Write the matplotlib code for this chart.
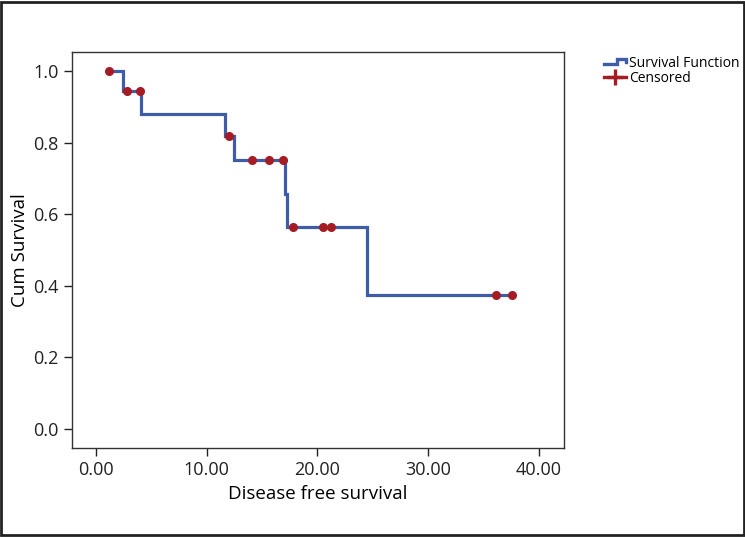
import matplotlib
matplotlib.use("Agg")
import matplotlib.pyplot as plt
from matplotlib.lines import Line2D
from matplotlib.legend_handler import HandlerBase
from matplotlib.patches import Rectangle

# Data
event_times = [2.5, 4.1, 11.7, 12.5, 17.1, 17.3, 24.5]
survival_levels = [1.0, 0.944, 0.881, 0.818, 0.75, 0.656, 0.563, 0.375]
start_time = 1.2
end_time = 37.6
censored_times = [1.2, 2.85, 4.0, 12.0, 14.1, 15.6, 16.9, 17.8, 20.5, 21.2, 36.1, 37.6]
censored_surv = [1.0, 0.944, 0.944, 0.818, 0.75, 0.75, 0.75, 0.563, 0.563, 0.563, 0.375, 0.375]
x_ticks = [0, 10, 20, 30, 40]
x_tick_labels = ["0.00", "10.00", "20.00", "30.00", "40.00"]
y_ticks = [0.0, 0.2, 0.4, 0.6, 0.8, 1.0]
y_tick_labels = ["0.0", "0.2", "0.4", "0.6", "0.8", "1.0"]

plt.rcParams['font.family'] = ['Open Sans', 'DejaVu Sans']

BLUE = "#3f5ca8"
RED = "#a51c24"

fig = plt.figure(figsize=(7.45, 5.37), dpi=100)
ax = fig.add_axes([72/745, 1-448/537, (564-72)/745, (448-52)/537])

# build step path
xs = [start_time]
ys = [survival_levels[0]]
for t, s_prev, s_new in zip(event_times, survival_levels[:-1], survival_levels[1:]):
    xs += [t, t]
    ys += [s_prev, s_new]
xs.append(end_time)
ys.append(survival_levels[-1])
ax.plot(xs, ys, color=BLUE, lw=2.3, solid_joinstyle='miter', zorder=2)
ax.plot(censored_times, censored_surv, 'o', color=RED, ms=5.5, zorder=3)

ax.set_xlim(-2.14, 42.26)
ax.set_ylim(-0.053, 1.053)
ax.set_xticks(x_ticks)
ax.set_xticklabels(x_tick_labels)
ax.set_yticks(y_ticks)
ax.set_yticklabels(y_tick_labels)
ax.tick_params(direction='out', length=6, width=1, labelsize=13, colors='#222222')
for sp in ax.spines.values():
    sp.set_color('#333333')
    sp.set_linewidth(1.0)
ax.set_xlabel("Disease free survival", fontsize=13.5, labelpad=4)
ax.set_ylabel("Cum Survival", fontsize=13.5, labelpad=3)


class StepHandler(HandlerBase):
    def create_artists(self, legend, orig_handle, xdescent, ydescent, width, height, fontsize, trans):
        x0, x1 = -xdescent, -xdescent + width
        y0 = -ydescent + height * 0.3
        y1 = -ydescent + height * 0.8
        xm = x0 + width * 0.6
        l = Line2D([x0, xm, xm, x1, x1], [y0, y0, y1, y1, y0 + (y1 - y0) * 0.4],
                   color=BLUE, lw=2.4, transform=trans, solid_joinstyle='miter')
        return [l]


h_surv = Line2D([], [], color=BLUE)
h_cens = Line2D([], [], color=RED, lw=2.4, marker='+', ms=12, mew=2.4)
leg = fig.legend([h_surv, h_cens], ["Survival Function", "Censored"],
                 handler_map={h_surv: StepHandler()},
                 loc='upper left', bbox_to_anchor=(597/745, 1-49/537),
                 frameon=False, fontsize=10, handlelength=1.6, handletextpad=0.2,
                 labelspacing=0.0, borderpad=0.0)

fig.patches.append(Rectangle((0.002, 0.003), 0.996, 0.994, transform=fig.transFigure,
                             fill=False, edgecolor='#222222', lw=2.0))

fig.savefig("out.png", dpi=100)
